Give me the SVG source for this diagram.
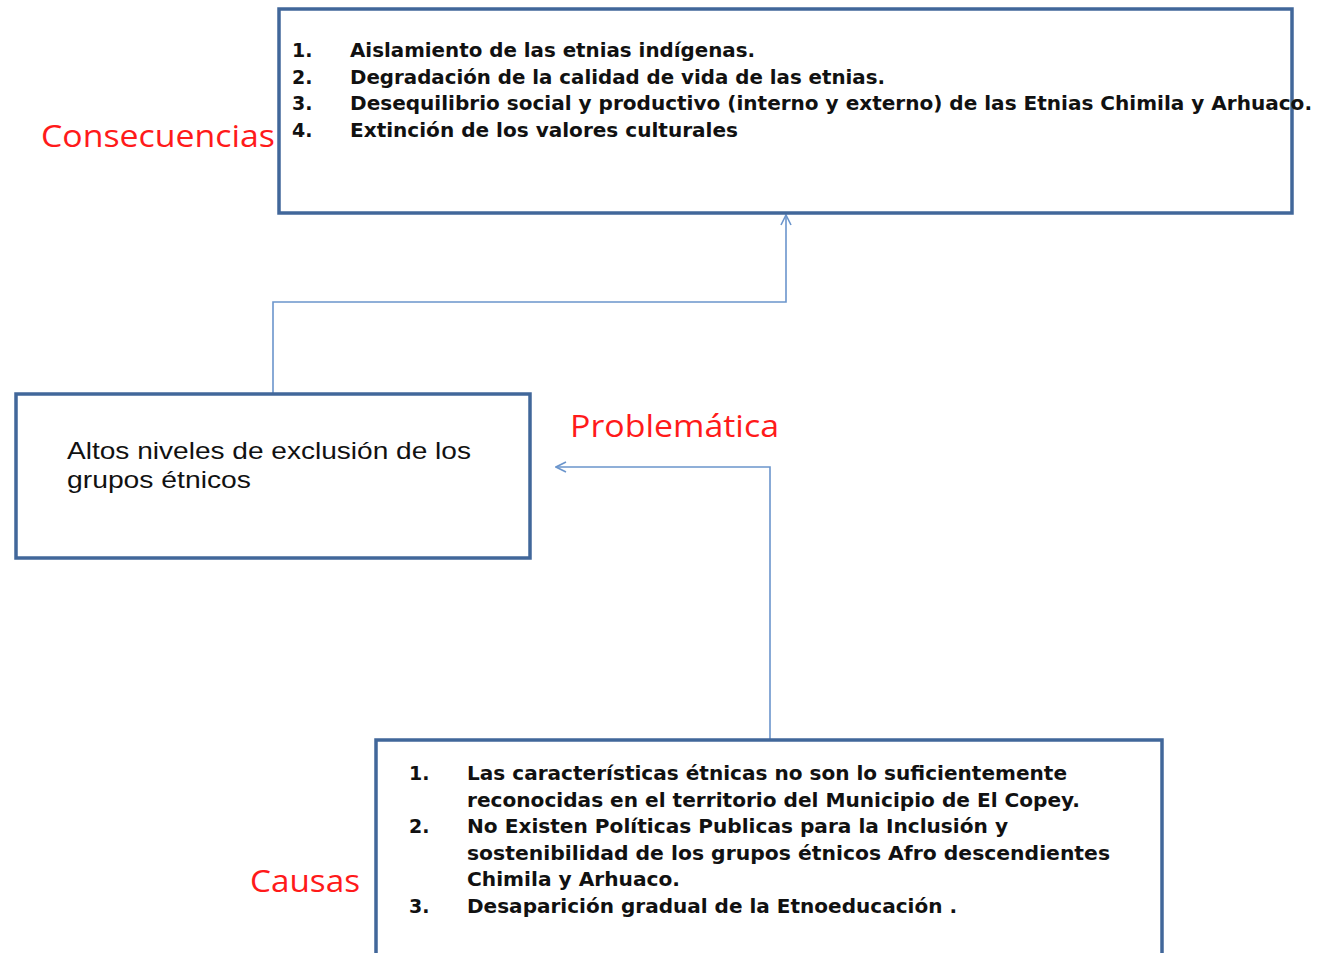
<svg xmlns="http://www.w3.org/2000/svg" width="1317" height="953" viewBox="0 0 1317 953">
<defs>
<style>
.box{fill:#ffffff;stroke:#41679a;stroke-width:3.5}
.conn{fill:none;stroke:#6b95cc;stroke-width:1.6}
.lbl{font-family:"Open Sans","Liberation Sans",sans-serif;fill:#ff1a1a;font-size:31px}
.item{font-family:"DejaVu Sans","Liberation Sans",sans-serif;font-weight:bold;font-size:19px;fill:#111}
.mid{font-family:"Liberation Sans",Arial,sans-serif;font-size:24px;fill:#111}
</style>
<marker id="arr" viewBox="0 0 12 12" refX="11" refY="6" markerWidth="12" markerHeight="12" markerUnits="userSpaceOnUse" orient="auto">
<path d="M1,1 L11,6 L1,11" fill="none" stroke="#6b95cc" stroke-width="1.6"/>
</marker>
</defs>
<rect width="1317" height="953" fill="#ffffff"/>
<g id="connectors">
<path class="conn" d="M273,394 V302 H786 V215" marker-end="url(#arr)"/>
<path class="conn" d="M770,740 V467 H556" marker-end="url(#arr)"/>
</g>
<g id="consecuencias">
<rect class="box" x="279" y="9" width="1013" height="204"/>
<text class="item" x="292" y="57">1.</text>
<text class="item" x="350" y="57" textLength="405" lengthAdjust="spacingAndGlyphs">Aislamiento de las etnias indígenas.</text>
<text class="item" x="292" y="84">2.</text>
<text class="item" x="350" y="84" textLength="535" lengthAdjust="spacingAndGlyphs">Degradación de la calidad de vida de las etnias.</text>
<text class="item" x="292" y="110">3.</text>
<text class="item" x="350" y="110" textLength="962" lengthAdjust="spacingAndGlyphs">Desequilibrio social y productivo (interno y  externo) de las Etnias Chimila y Arhuaco.</text>
<text class="item" x="292" y="137">4.</text>
<text class="item" x="350" y="137" textLength="388" lengthAdjust="spacingAndGlyphs">Extinción de los valores culturales</text>
</g>
<g id="label-consecuencias">
<text class="lbl" x="41" y="147" textLength="234" lengthAdjust="spacingAndGlyphs">Consecuencias</text>
</g>
<g id="problematica">
<rect class="box" x="16" y="394" width="514" height="164"/>
<text class="mid" x="67" y="459" textLength="404" lengthAdjust="spacingAndGlyphs">Altos niveles de exclusión de los</text>
<text class="mid" x="67" y="488" textLength="184" lengthAdjust="spacingAndGlyphs">grupos étnicos</text>
</g>
<g id="label-problematica">
<text class="lbl" x="570" y="437" textLength="209" lengthAdjust="spacingAndGlyphs">Problemática</text>
</g>
<g id="causas">
<rect class="box" x="376" y="740" width="786" height="230"/>
<text class="item" x="409" y="780">1.</text>
<text class="item" x="467" y="780" textLength="600" lengthAdjust="spacingAndGlyphs">Las características étnicas no son lo suficientemente</text>
<text class="item" x="467" y="807" textLength="613" lengthAdjust="spacingAndGlyphs">reconocidas en el territorio del Municipio de El Copey.</text>
<text class="item" x="409" y="833">2.</text>
<text class="item" x="467" y="833" textLength="541" lengthAdjust="spacingAndGlyphs">No Existen Políticas Publicas para la Inclusión y</text>
<text class="item" x="467" y="860" textLength="643" lengthAdjust="spacingAndGlyphs">sostenibilidad de los grupos étnicos  Afro descendientes</text>
<text class="item" x="467" y="886" textLength="213" lengthAdjust="spacingAndGlyphs">Chimila y Arhuaco.</text>
<text class="item" x="409" y="913">3.</text>
<text class="item" x="467" y="913" textLength="490" lengthAdjust="spacingAndGlyphs">Desaparición gradual de la Etnoeducación .</text>
</g>
<g id="label-causas">
<text class="lbl" x="250" y="892" textLength="110" lengthAdjust="spacingAndGlyphs">Causas</text>
</g>
</svg>
